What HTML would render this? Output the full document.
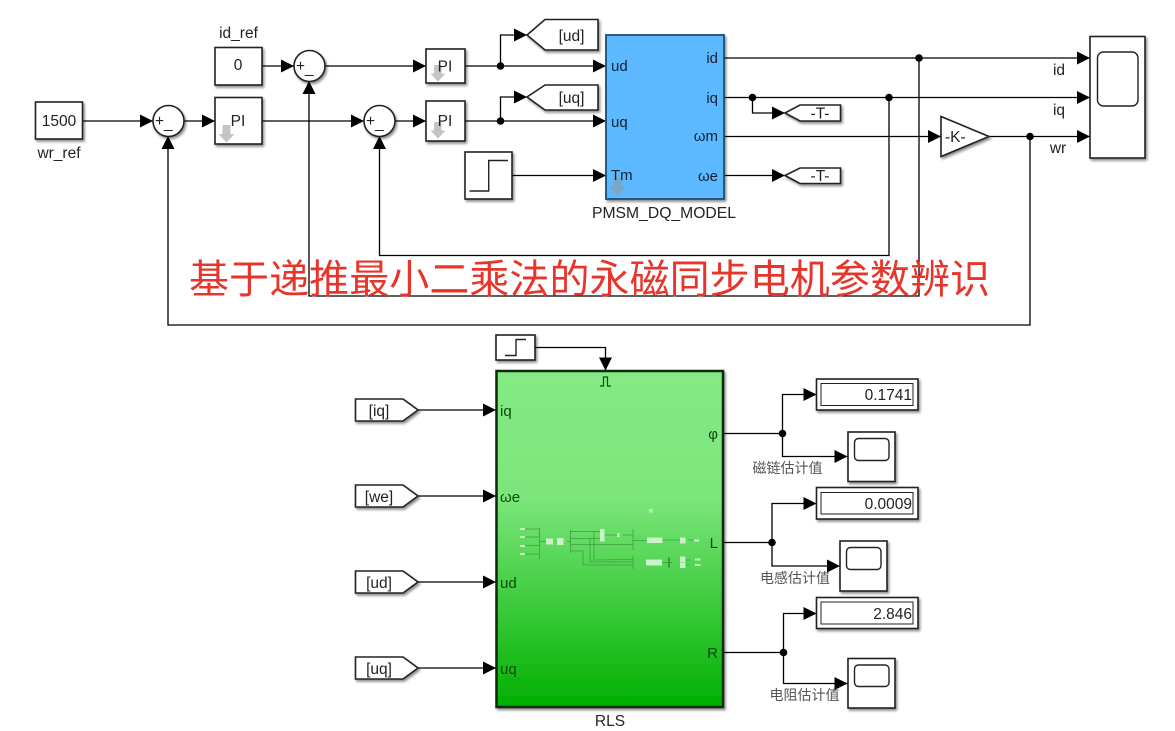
<!DOCTYPE html>
<html><head><meta charset="utf-8">
<style>
html,body{margin:0;padding:0;background:#fff;width:1175px;height:731px;overflow:hidden}
svg{display:block;filter:blur(.35px)}
text{font-family:"Liberation Sans","Noto Sans CJK SC",sans-serif;fill:#222}
.w{fill:none;stroke:#000;stroke-width:1.3}
.wa{fill:none;stroke:#000;stroke-width:1.3;marker-end:url(#a)}
.b{fill:#fff;stroke:#222;stroke-width:1.6;filter:url(#s)}
.i{fill:none;stroke:#222;stroke-width:1.4}
.t{font-size:15.5px}
.m{text-anchor:middle}
.e{text-anchor:end}
.p{font-size:15px;fill:#123}
.g{fill:#0c4a0c;font-size:15px}
.d{fill:#c4c4c4}
.c{font-size:14px;fill:#555;text-anchor:middle}
.l{stroke:#3f9f3f;stroke-width:.8;fill:none}
.r{fill:#c9f2c9}
</style></head>
<body>
<svg width="1175" height="731" viewBox="0 0 1175 731" xmlns="http://www.w3.org/2000/svg">
<defs>
<marker id="a" markerUnits="userSpaceOnUse" markerWidth="14" markerHeight="14" refX="13" refY="6.5" orient="auto"><path d="M0 0L13 6.500L0 13Z" fill="#000"/></marker>
<filter id="s" x="-20%" y="-20%" width="150%" height="150%"><feDropShadow dx="1.5" dy="2" stdDeviation="1.4" flood-color="#000" flood-opacity=".45"/></filter>
<linearGradient id="gr" x1="0" y1="0" x2="0" y2="1"><stop offset="0" stop-color="#85ea85"/><stop offset=".38" stop-color="#7be67b"/><stop offset="1" stop-color="#00b000"/></linearGradient>
</defs>

<!-- wires top -->
<path class="wa" d="M82 121H153"/>
<path class="wa" d="M184 121H215"/>
<path class="wa" d="M262 66H294"/>
<path class="wa" d="M325 66H426"/>
<path class="wa" d="M262 121H364"/>
<path class="wa" d="M395 121H426"/>
<path class="wa" d="M465 66H606"/>
<path class="wa" d="M465 121H606"/>
<path class="wa" d="M500.5 66V35H527"/>
<path class="wa" d="M500.5 121V97H527"/>
<path class="wa" d="M512 175.500H606"/>
<path class="wa" d="M724 58H1090"/>
<path class="wa" d="M724 97.500H1090"/>
<path class="wa" d="M752.500 97.500V113H785"/>
<path class="wa" d="M724 175.500H785"/>
<path class="wa" d="M724 136.500H941"/>
<path class="wa" d="M989 136.500H1090"/>
<path class="wa" d="M889 97.500V255.500H379.500V136"/>
<path class="wa" d="M919 58V296H309V81"/>
<path class="wa" d="M1030 136.500V325H168V136"/>
<g fill="#000"><circle cx="500.500" cy="66" r="3.800"/><circle cx="500.500" cy="121" r="3.800"/><circle cx="919" cy="58" r="3.800"/><circle cx="752.500" cy="97.500" r="3.800"/><circle cx="889" cy="97.500" r="3.800"/><circle cx="1030" cy="136.500" r="3.800"/></g>

<!-- constants -->
<rect class="b" x="35.500" y="102" width="47" height="37"/>
<text class="t m" x="59" y="126">1500</text>
<text class="t m" x="59" y="158">wr_ref</text>
<rect class="b" x="215" y="47.500" width="47" height="37.500"/>
<text class="t m" x="238" y="70">0</text>
<text class="t m" x="238.500" y="38">id_ref</text>

<!-- sums -->
<circle class="b" cx="168.500" cy="121" r="15.500"/>
<circle class="b" cx="309.500" cy="66" r="15.500"/>
<circle class="b" cx="379.500" cy="121" r="15.500"/>
<text class="t" x="155" y="126">+</text><text class="t" x="164" y="128">_</text>
<text class="t" x="296" y="71">+</text><text class="t" x="305" y="73">_</text>
<text class="t" x="366" y="126">+</text><text class="t" x="375" y="128">_</text>

<!-- PI -->
<rect class="b" x="215" y="97.500" width="47" height="46.500"/>
<path class="d" d="M222.500 125h8v9h4l-8 8.500-8-8.500h4z"/>
<text class="t m" x="238" y="126">PI</text>
<rect class="b" x="426" y="49" width="39" height="34"/>
<path class="d" d="M434 65h7.500v8.500h4l-7.500 8-7.500-8h3.500z"/>
<text class="t m" x="445" y="71.500">PI</text>
<rect class="b" x="426" y="101" width="39" height="40"/>
<path class="d" d="M434 122h7.500v8.500h4l-7.500 8-7.500-8h3.500z"/>
<text class="t m" x="445" y="126">PI</text>

<!-- step -->
<rect class="b" x="465" y="152" width="47" height="47"/>
<path class="i" d="M469.500 191H488.700V160.500H508"/>

<!-- gotos -->
<path class="b" d="M527 35L545 19.500H598V50H545Z"/>
<text class="t m" x="571.500" y="41">[ud]</text>
<path class="b" d="M527 97L545 85H598V110H545Z"/>
<text class="t m" x="571.500" y="103">[uq]</text>
<path class="b" d="M785 113L800 105H840.500V121H800Z"/>
<text class="t m" x="820" y="118.500">-T-</text>
<path class="b" d="M785 175.500L800 168H840.500V183.500H800Z"/>
<text class="t m" x="820" y="181">-T-</text>

<!-- model -->
<rect x="606" y="35" width="118" height="164" fill="#5cb9ff" stroke="#1e4e74" stroke-width="1.800" filter="url(#s)"/>
<path d="M613.500 178h8v9h4.500l-8.500 9-8.500-9h4.500z" fill="#7ba7c6"/>
<text class="p" x="611" y="71">ud</text>
<text class="p" x="611" y="127">uq</text>
<text class="p" x="611" y="180">Tm</text>
<text class="p e" x="718" y="63">id</text>
<text class="p e" x="718" y="103">iq</text>
<text class="p e" x="718" y="141">ωm</text>
<text class="p e" x="718" y="181">ωe</text>
<text class="t" x="592" y="218" textLength="144" lengthAdjust="spacingAndGlyphs">PMSM_DQ_MODEL</text>

<!-- gain -->
<path class="b" d="M941 116.500L989 136.500L941 156.500Z"/>
<text class="t" x="945" y="142">-K-</text>

<!-- scope -->
<rect class="b" x="1090" y="36.500" width="55" height="121.500"/>
<rect class="i" x="1097.500" y="52" width="40.500" height="54" rx="6"/>
<text class="t m" x="1059" y="75">id</text>
<text class="t m" x="1059" y="115">iq</text>
<text class="t m" x="1058" y="153">wr</text>

<!-- title -->
<text x="189" y="293" font-size="40" textLength="801" style="fill:#e8352b;font-family:'Noto Sans CJK SC','WenQuanYi Zen Hei',sans-serif">基于递推最小二乘法的永磁同步电机参数辨识</text>

<!-- RLS -->
<rect class="b" x="496" y="335" width="39" height="25"/>
<path class="i" d="M505 355.500H516V339.500H526"/>
<path class="wa" d="M535 347.500H605.500V370.500"/>
<rect x="496.500" y="371" width="226.500" height="336" fill="url(#gr)" stroke="#0c2c0c" stroke-width="2.500" filter="url(#s)"/>
<text class="t m" x="610" y="726">RLS</text>
<path d="M600 386h3.500v-9h4v9h3.500" fill="none" stroke="#0c4a0c" stroke-width="1.200"/>

<path class="b" d="M355.500 399H403L418 410L403 421H355.500Z"/>
<text class="t m" x="379" y="416">[iq]</text>
<path class="b" d="M355.500 485H403L418 496L403 507H355.500Z"/>
<text class="t m" x="379" y="502">[we]</text>
<path class="b" d="M355.500 571H403L418 582L403 593H355.500Z"/>
<text class="t m" x="379" y="588">[ud]</text>
<path class="b" d="M355.500 657H403L418 668L403 679H355.500Z"/>
<text class="t m" x="379" y="674">[uq]</text>
<path class="wa" d="M418 410H496"/>
<path class="wa" d="M418 496H496"/>
<path class="wa" d="M418 582H496"/>
<path class="wa" d="M418 668H496"/>
<text class="g" x="500" y="416">iq</text>
<text class="g" x="500" y="502">ωe</text>
<text class="g" x="500" y="588">ud</text>
<text class="g" x="500" y="674">uq</text>
<text class="g e" x="718" y="439">φ</text>
<text class="g e" x="718" y="548">L</text>
<text class="g e" x="718" y="658">R</text>

<!-- RLS thumbnail -->
<g>
<path class="l" d="M525 529H539.500M525 537H539.500M525 545.500H539.500M525 554H539.500M539.500 528V559M540 541.500H546M556 541.500H557M567 541.500H570M570.500 530V553M571 531.500H600M571 538.500H600M571 544.500H633M571 551H583V565H633M594 531V560L633 559.500M590 538.500V562L633 562M605 535H617M623 535H633M633 529V550M633 540.500H646M662 540H682M688 540H695M633 556V569M662 562.500H672M684 560H690M684 565H690"/>
<g class="r">
<rect x="520" y="528" width="5" height="2"/><rect x="520" y="536" width="5" height="2"/><rect x="520" y="545" width="5" height="2"/><rect x="520" y="553" width="5" height="2"/>
<rect x="546" y="538.500" width="7" height="6"/><rect x="557" y="538" width="6.500" height="7"/>
<rect x="600" y="529" width="4.500" height="12.500"/><rect x="617" y="533" width="2.500" height="4"/>
<rect x="647" y="537.500" width="15.500" height="5.500"/><rect x="680" y="537.500" width="5.500" height="6"/><rect x="694" y="539.500" width="5" height="2"/>
<rect x="646" y="559.500" width="16" height="6"/><rect x="680" y="556.500" width="5.500" height="5.500"/><rect x="680" y="562.500" width="5.500" height="5.500"/><rect x="695" y="558.500" width="5.500" height="2"/><rect x="695" y="564" width="5.500" height="2"/>
<rect x="649" y="509" width="3.500" height="3.500"/>
</g>
<rect x="668.500" y="557.500" width="1" height="10" fill="#136b13"/>
</g>

<!-- outputs -->
<path class="w" d="M723 433.500H782.500"/>
<path class="wa" d="M782.500 433.500V394.500H816.500"/>
<path class="wa" d="M782.500 433.500V456.500H847.500"/>
<circle cx="782.500" cy="433.500" r="3.800"/>
<path class="w" d="M723 542.500H772"/>
<path class="wa" d="M772 542.500V503.500H816.500"/>
<path class="wa" d="M772 542.500V566H840"/>
<circle cx="772" cy="542.500" r="3.800"/>
<path class="w" d="M723 652.500H783.500"/>
<path class="wa" d="M783.500 652.500V613.500H816.500"/>
<path class="wa" d="M783.500 652.500V683.500H847.500"/>
<circle cx="783.500" cy="652.500" r="3.800"/>

<rect class="b" x="816.500" y="379" width="101.500" height="31"/><rect x="821" y="383.500" width="92" height="22" fill="none" stroke="#222" stroke-width="1"/>
<text class="t e" x="912" y="400">0.1741</text>
<rect class="b" x="816.500" y="487.500" width="101.500" height="31.500"/><rect x="821" y="492.500" width="92" height="21.500" fill="none" stroke="#222" stroke-width="1"/>
<text class="t e" x="912" y="509">0.0009</text>
<rect class="b" x="816.500" y="597.500" width="101.500" height="31"/><rect x="821" y="602" width="92" height="22" fill="none" stroke="#222" stroke-width="1"/>
<text class="t e" x="912" y="619">2.846</text>

<rect class="b" x="848" y="432" width="47" height="49.500"/><rect class="i" x="854.500" y="438.500" width="34.500" height="22" rx="4"/>
<rect class="b" x="840" y="541" width="47" height="50"/><rect class="i" x="846.500" y="547.500" width="34.500" height="22" rx="4"/>
<rect class="b" x="848" y="658.500" width="47" height="49.500"/><rect class="i" x="854.500" y="665" width="34.500" height="21.500" rx="4"/>

<text class="c" x="787.500" y="473">磁链估计值</text>
<text class="c" x="795" y="583">电感估计值</text>
<text class="c" x="804.500" y="700">电阻估计值</text>
</svg>
</body></html>
